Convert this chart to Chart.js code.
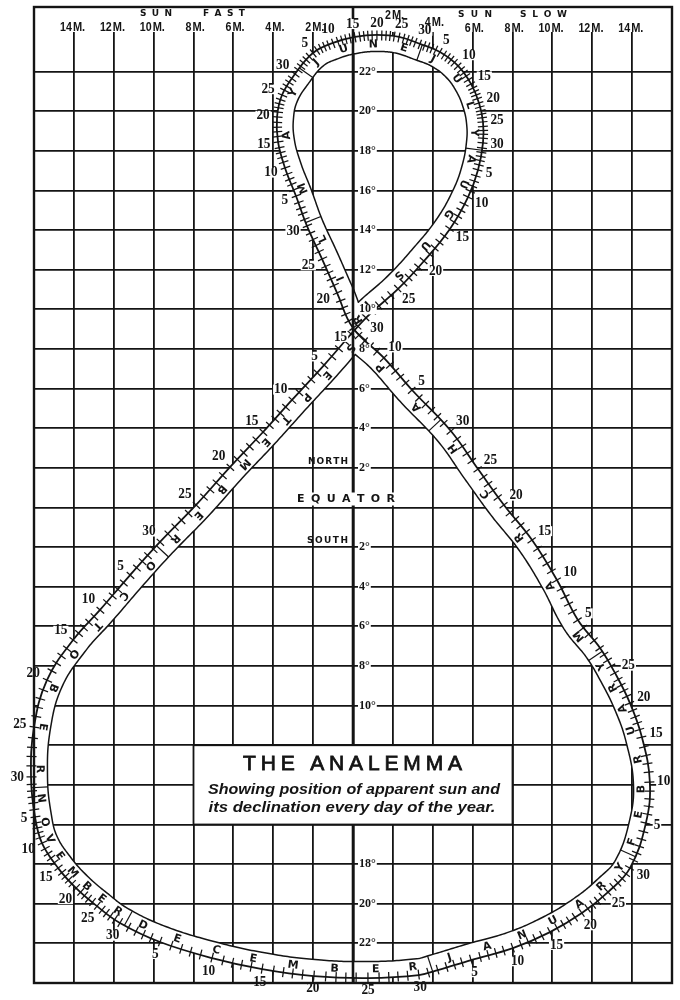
<!DOCTYPE html>
<html><head><meta charset="utf-8">
<script src="https://cdn.jsdelivr.net/npm/chart.js@4.4.1/dist/chart.umd.min.js"></script>
<style>html,body{margin:0;padding:0;background:#fff;}canvas{display:block;}</style>
</head><body>
<canvas id="c" width="680" height="1000"></canvas>
<script>
// ---------------- DATA ----------------
const dayLabels = ["Jan 1","Jan 5","Jan 10","Jan 15","Jan 20","Jan 25","Jan 30",
"Feb 5","Feb 10","Feb 15","Feb 20","Feb 25",
"Mar 1","Mar 5","Mar 10","Mar 15","Mar 20","Mar 25","Mar 30",
"Apr 5","Apr 10","Apr 15","Apr 20","Apr 25","Apr 30",
"May 5","May 10","May 15","May 20","May 25","May 30",
"Jun 5","Jun 10","Jun 15","Jun 20","Jun 25","Jun 30",
"Jul 5","Jul 10","Jul 15","Jul 20","Jul 25","Jul 30",
"Aug 5","Aug 10","Aug 15","Aug 20","Aug 25","Aug 30",
"Sep 5","Sep 10","Sep 15","Sep 20","Sep 25","Sep 30",
"Oct 5","Oct 10","Oct 15","Oct 20","Oct 25","Oct 30",
"Nov 5","Nov 10","Nov 15","Nov 20","Nov 25","Nov 30",
"Dec 5","Dec 10","Dec 15","Dec 20","Dec 25","Dec 30"];
// minutes: positive = sun slow (right), negative = sun fast (left)
const sunSlowMinutes = [4.25,5.92,8.02,9.88,11.48,12.79,13.89,
14.69,14.89,14.49,13.89,13.14,
12.39,11.28,10.23,8.98,7.57,6.27,4.91,
2.96,1.55,0.0,-0.80,-1.55,-2.31,
-2.86,-3.41,-3.76,-3.81,-3.56,-2.91,
-2.01,-1.00,0.10,1.20,2.31,3.36,
4.36,5.27,5.92,6.32,6.52,6.52,
6.27,5.77,4.86,3.56,2.26,0.65,
-1.45,-3.06,-4.51,-6.17,-7.87,-9.68,
-11.18,-12.69,-14.04,-15.35,-16.00,-16.15,
-15.95,-15.60,-14.79,-13.89,-12.84,-11.69,
-9.68,-7.07,-4.56,-1.96,0.75,3.30];
// declination in degrees (north positive)
const declination = [-23.35,-22.84,-22.24,-21.43,-20.47,-19.41,-18.20,
-15.93,-13.86,-11.59,-9.87,-8.35,
-7.09,-5.68,-3.66,-1.64,0.13,1.94,3.86,
5.93,7.55,9.06,10.83,12.54,14.21,
15.72,17.14,18.45,19.71,20.82,21.88,
22.94,23.45,23.75,23.85,23.75,23.40,
22.99,22.29,21.38,20.42,19.46,18.40,
17.04,15.67,14.06,12.44,11.03,9.57,
7.19,5.43,3.81,2.04,0.13,-1.74,
-3.41,-5.17,-6.69,-8.71,-11.08,-13.60,
-15.62,-16.94,-18.20,-19.21,-20.12,-20.97,
-21.93,-22.74,-23.30,-23.65,-23.75,-23.60];
const monthNames = ["JANUARY","FEBRUARY","MARCH","APRIL","MAY","JUNE","JULY","AUGUST","SEPTEMBER","OCTOBER","NOVEMBER","DECEMBER"];
const monthAbbr = ["Jan","Feb","Mar","Apr","May","Jun","Jul","Aug","Sep","Oct","Nov","Dec"];
const monthLengths = [31,28,31,30,31,30,31,31,30,31,30,31];
const minuteTickValues = [-14,-12,-10,-8,-6,-4,-2,2,4,6,8,10,12,14];
const minuteTickLabels = ["14","12","10","8","6","4","2","2","4","6","8","10","12","14"];
const northDegreeTicks = [22,20,18,16,14,12,10,8,6,4,2];
const southDegreeTicks = [2,4,6,8,10,18,20,22];

// ---------------- derived ----------------
const monthStart = []; { let a = 1; for (const L of monthLengths) { monthStart.push(a); a += L; } }
function dayOfYear(label){ const [m,d] = label.split(" "); return monthStart[monthAbbr.indexOf(m)] + (+d) - 1; }
const days = dayLabels.map(dayOfYear);
const N = days.length;
const pts = dayLabels.map((_, i) => ({x: sunSlowMinutes[i], y: declination[i]}));
const fullData = [pts[N-1], ...pts, pts[0], pts[1]];
const fullDays = [days[N-1]-365, ...days, days[0]+365, days[1]+365];

const INK = "#141414";
const W = 16.5; // ribbon width
const FRAME_TOP = 7;

function segInt(p1,p2,p3,p4){
  const d1x=p2.x-p1.x, d1y=p2.y-p1.y, d2x=p4.x-p3.x, d2y=p4.y-p3.y;
  const den = d1x*d2y - d1y*d2x; if (Math.abs(den) < 1e-9) return null;
  const t = ((p3.x-p1.x)*d2y - (p3.y-p1.y)*d2x)/den;
  const u = ((p3.x-p1.x)*d1y - (p3.y-p1.y)*d1x)/den;
  if (t < 0 || t > 1 || u < 0 || u > 1) return null;
  return {t, u, x: p1.x + t*d1x, y: p1.y + t*d1y};
}
function normDay(d){ while (d >= 366) d -= 365; while (d < 1) d += 365; return d; }

function buildGeometry(chart){
  const meta = chart.getDatasetMeta(0);
  meta.dataset.updateControlPoints(chart.chartArea, 'x');
  const P = meta.data;
  const at = (day) => {
    day = normDay(day);
    let k = 1;
    while (k < fullDays.length - 2 && fullDays[k+1] <= day) k++;
    const t = (day - fullDays[k]) / (fullDays[k+1] - fullDays[k]);
    const a = P[k], b = P[k+1];
    const x0=a.x,y0=a.y,x1=a.cp2x,y1=a.cp2y,x2=b.cp1x,y2=b.cp1y,x3=b.x,y3=b.y;
    const u = 1 - t;
    return {
      x: u*u*u*x0 + 3*u*u*t*x1 + 3*u*t*t*x2 + t*t*t*x3,
      y: u*u*u*y0 + 3*u*u*t*y1 + 3*u*t*t*y2 + t*t*t*y3,
      tx: 3*u*u*(x1-x0) + 6*u*t*(x2-x1) + 3*t*t*(x3-x2),
      ty: 3*u*u*(y1-y0) + 6*u*t*(y2-y1) + 3*t*t*(y3-y2)
    };
  };
  let cross = null;
  const A = [], B = [];
  for (let d = 92; d <= 118; d += 0.1) A.push(Object.assign(at(d), {d}));
  for (let d = 228; d <= 258; d += 0.1) B.push(Object.assign(at(d), {d}));
  search: for (let i = 0; i < A.length-1; i++) for (let j = 0; j < B.length-1; j++) {
    const r = segInt(A[i], A[i+1], B[j], B[j+1]);
    if (r) { cross = {dA: A[i].d + 0.1*r.t, dB: B[j].d + 0.1*r.u, x: r.x, y: r.y}; break search; }
  }
  if (!cross) cross = {dA: 105, dB: 243};
  const isUpper = d => { d = normDay(d); return d >= cross.dA && d <= cross.dB; };
  const inward = (p, d) => {
    const s = isUpper(d) ? -1 : 1; const L = Math.hypot(p.tx, p.ty) || 1;
    return {x: s*p.ty/L, y: -s*p.tx/L};
  };
  const lobe = (d0, d1, sign) => {
    const outer = []; for (let d = d0; d <= d1 + 1e-9; d += 0.25) outer.push(at(d));
    const Q = [];
    for (let d = d0 - 6; d <= d1 + 6 + 1e-9; d += 0.25) {
      const p = at(d); const L = Math.hypot(p.tx, p.ty) || 1;
      Q.push({x: p.x + sign*p.ty/L*W, y: p.y - sign*p.tx/L*W});
    }
    const n = Q.length; let X = null, ii = 0, jj = n-1;
    s2: for (let i = 0; i < Math.min(110, n-1); i++) for (let j = Math.max(i+2, n-111); j < n-1; j++) {
      const r = segInt(Q[i], Q[i+1], Q[j], Q[j+1]);
      if (r) { X = r; ii = i; jj = j; break s2; }
    }
    const inner = X ? [{x: X.x, y: X.y}, ...Q.slice(ii+1, jj+1)] : Q;
    return {outer, inner};
  };
  const lobes = [lobe(cross.dA, cross.dB, -1), lobe(cross.dB, cross.dA + 365, 1)];
  return {at, isUpper, inward, lobes, cross};
}

function pathPoly(ctx, arr){ arr.forEach((p,i) => i ? ctx.lineTo(p.x,p.y) : ctx.moveTo(p.x,p.y)); ctx.closePath(); }
function spaced(ctx, s, x0, x1, y, font, strokeW){
  ctx.save(); ctx.font = font; ctx.textBaseline = "middle"; ctx.textAlign = "left"; ctx.fillStyle = INK; ctx.strokeStyle = INK;
  const ch = [...s]; const ws = ch.map(c => ctx.measureText(c).width); const tot = ws.reduce((a,b)=>a+b,0);
  const gap = ch.length > 1 ? (x1 - x0 - tot)/(ch.length - 1) : 0;
  let x = x0; ch.forEach((c,i) => { ctx.fillText(c, x, y); if (strokeW) { ctx.lineWidth = strokeW; ctx.strokeText(c, x, y); } x += ws[i] + gap; });
  ctx.restore();
}
function fitText(ctx, s, cx, cy, font, width){
  ctx.save(); ctx.font = font; ctx.textBaseline = "middle"; ctx.textAlign = "center"; ctx.fillStyle = INK;
  const w = ctx.measureText(s).width; ctx.translate(cx, cy); ctx.scale(width / w, 1); ctx.fillText(s, 0, 0);
  ctx.restore();
}
function labelText(ctx, s, x, y, align, sx, bg){
  ctx.save(); ctx.translate(x, y); ctx.scale(sx, 1); ctx.textAlign = align; ctx.textBaseline = "middle";
  if (bg) {
    const w = ctx.measureText(s).width; const h = bg;
    const lx = align === "left" ? 0 : align === "right" ? -w : -w/2;
    ctx.fillStyle = "#fff"; ctx.fillRect(lx - 1, -h/2, w + 2, h);
  }
  ctx.fillStyle = INK; ctx.fillText(s, 0, 0); ctx.restore();
}

const analemmaPlugin = {
  id: "analemma",
  beforeDatasetsDraw(chart){
    const G = buildGeometry(chart); chart.$G = G;
    const ctx = chart.ctx;
    ctx.save();
    for (const L of G.lobes) {
      ctx.beginPath(); pathPoly(ctx, L.outer); pathPoly(ctx, L.inner);
      ctx.fillStyle = "#fff"; ctx.fill("evenodd");
    }
    ctx.strokeStyle = INK; ctx.lineWidth = 1.5; ctx.lineJoin = "round";
    for (const L of G.lobes) { ctx.beginPath(); pathPoly(ctx, L.inner); ctx.stroke(); }
    ctx.lineWidth = 1.2;
    for (let m = 0; m < 12; m++) {
      const d = monthStart[m] - 0.5; const p = G.at(d); const n = G.inward(p, d);
      ctx.beginPath(); ctx.moveTo(p.x, p.y); ctx.lineTo(p.x + n.x*W, p.y + n.y*W); ctx.stroke();
    }
    ctx.font = 'bold 11px "DejaVu Sans"'; ctx.fillStyle = INK; ctx.textAlign = "center"; ctx.textBaseline = "middle";
    for (let m = 0; m < 12; m++) {
      const s = monthStart[m] - 0.5, len = monthLengths[m], name = monthNames[m];
      for (let i = 0; i < name.length; i++) {
        const d = s + (i + 0.5) * len / name.length;
        const p = G.at(d); const n = G.inward(p, d);
        ctx.save(); ctx.translate(p.x + n.x*W*0.55, p.y + n.y*W*0.55); ctx.rotate(Math.atan2(p.ty, p.tx));
        ctx.fillText(name[i], 0, 0.5); ctx.restore();
      }
    }
    ctx.restore();
  },
  afterDatasetsDraw(chart){
    const G = chart.$G; const ctx = chart.ctx; const xs = chart.scales.x, ys = chart.scales.y; const ca = chart.chartArea;
    ctx.save();
    ctx.strokeStyle = INK; ctx.lineWidth = 1.25;
    for (let d = 1; d <= 365; d++) {
      const p = G.at(d); const n = G.inward(p, d);
      ctx.beginPath(); ctx.moveTo(p.x - n.x*4.5, p.y - n.y*4.5); ctx.lineTo(p.x + n.x*5.5, p.y + n.y*5.5); ctx.stroke();
    }
    const x0 = xs.getPixelForValue(0);
    ctx.lineWidth = 2.6; ctx.beginPath(); ctx.moveTo(x0, FRAME_TOP); ctx.lineTo(x0, ca.bottom); ctx.stroke();
    ctx.font = 'bold 14px "Liberation Serif"';
    for (let i = 0; i < N; i++) {
      const dm = +dayLabels[i].split(" ")[1]; if (dm % 5) continue;
      const p = G.at(days[i]); const n = G.inward(p, days[i]);
      const s = String(dm); const w = ctx.measureText(s).width * 0.95, h = 10;
      const off = 7 + Math.abs(n.x)*w/2 + Math.abs(n.y)*h/2;
      labelText(ctx, s, p.x - n.x*off, p.y - n.y*off, "center", 0.95, 10);
    }
    ctx.font = 'bold 12px "Liberation Serif"';
    for (const v of northDegreeTicks) labelText(ctx, v + "°", x0 + 6, ys.getPixelForValue(v), "left", 1, 10);
    for (const v of southDegreeTicks) labelText(ctx, v + "°", x0 + 6, ys.getPixelForValue(-v), "left", 1, 10);
    const yEq = ys.getPixelForValue(0);
    ctx.fillStyle = "#fff"; ctx.fillRect(295, yEq - 15, 102, 13);
    spaced(ctx, "EQUATOR", 297, 395, yEq - 8, 'bold 11px "DejaVu Sans"');
    spaced(ctx, "NORTH", 308, 348, ys.getPixelForValue(2) - 6, 'bold 9px "DejaVu Sans"');
    spaced(ctx, "SOUTH", 307, 348, ys.getPixelForValue(-2) - 6, 'bold 9px "DejaVu Sans"');
    const bx0 = xs.getPixelForValue(-8), bx1 = xs.getPixelForValue(8), by0 = ys.getPixelForValue(-12), by1 = ys.getPixelForValue(-16);
    ctx.fillStyle = "#fff"; ctx.fillRect(bx0, by0, bx1 - bx0, by1 - by0);
    ctx.lineWidth = 1.8; ctx.strokeStyle = INK; ctx.strokeRect(bx0, by0, bx1 - bx0, by1 - by0);
    spaced(ctx, "THE ANALEMMA", 243, 462, by0 + 19, '21px "Liberation Sans"', 0.8);
    fitText(ctx, "Showing position of apparent sun and", 354, by0 + 45, 'bold italic 15px "Liberation Sans"', 292);
    fitText(ctx, "its declination every day of the year.", 352, by0 + 63, 'bold italic 15px "Liberation Sans"', 287);
    ctx.font = 'bold 13px "Liberation Sans"';
    minuteTickValues.forEach((v, i) => {
      const x = xs.getPixelForValue(v);
      const y = v === 2 ? 15 : v === 4 ? 22 : (v > 0 ? 28 : 27);
      labelText(ctx, minuteTickLabels[i], x - 2, y, "right", 0.82, 0);
      labelText(ctx, "M.", x - 1, y, "left", 0.85, 0);
    });
    spaced(ctx, "SUN", 140, 172, 14, 'bold 9px "DejaVu Sans"');
    spaced(ctx, "FAST", 203, 245, 14, 'bold 9px "DejaVu Sans"');
    spaced(ctx, "SUN", 458, 492, 15, 'bold 9px "DejaVu Sans"');
    spaced(ctx, "SLOW", 520, 567, 15, 'bold 9px "DejaVu Sans"');
    ctx.lineWidth = 2.4; ctx.strokeStyle = INK;
    ctx.strokeRect(ca.left, FRAME_TOP, ca.right - ca.left, ca.bottom - FRAME_TOP);
    ctx.restore();
  }
};

const lastIdx = fullData.length - 1;
new Chart(document.getElementById("c"), {
  type: "line",
  data: { datasets: [{
    data: fullData, borderColor: INK, borderWidth: 1.8, pointRadius: 0, pointHoverRadius: 0,
    tension: 0.4, clip: false, fill: false,
    segment: { borderColor: c => (c.p0DataIndex === 0 || c.p1DataIndex === lastIdx) ? "rgba(0,0,0,0)" : INK }
  }]},
  options: {
    responsive: false, animation: false, devicePixelRatio: 1, events: [],
    elements: { line: { capBezierPoints: false } },
    layout: { padding: { left: 34, right: 8, top: 32, bottom: 17 } },
    plugins: { legend: { display: false }, tooltip: { enabled: false } },
    scales: {
      x: { type: "linear", min: -16, max: 16, afterFit: s => { s.height = 0; },
        ticks: { display: false, stepSize: 2 },
        grid: { drawTicks: false, color: INK, lineWidth: c => { const v = c.tick.value; return Math.abs(v) >= 16 ? 0 : (v === 0 ? 2.6 : 1.8); } },
        border: { display: false } },
      y: { type: "linear", min: -24, max: 24, afterFit: s => { s.width = 0; },
        ticks: { display: false, stepSize: 2 },
        grid: { drawTicks: false, color: INK, lineWidth: c => Math.abs(c.tick.value) >= 24 ? 0 : 1.8 },
        border: { display: false } }
    }
  },
  plugins: [analemmaPlugin]
});
</script>
</body></html>
